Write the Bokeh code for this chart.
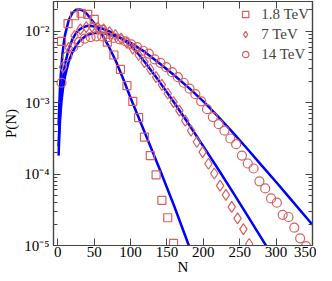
from bokeh.plotting import figure
from bokeh.models import (LogAxis, LinearAxis, FixedTicker, Range1d, Legend, LegendItem,
                          CustomJSTickFormatter)
from bokeh.embed import file_html
from bokeh.resources import INLINE

# ---- fitted curves (blue) ----
n_18 = [1, 2, 3, 4, 5, 6, 8, 10, 15, 20, 25, 30, 35, 40, 50, 60, 70, 80, 90, 100,
        120, 140, 160, 180, 190]
fit_18 = [4.79e-4, 9.77e-4, 1.66e-3, 2.45e-3, 3.39e-3, 4.47e-3, 6.76e-3, 9.12e-3,
          0.01445, 0.0182, 0.0202, 0.0204, 0.0195, 0.0176, 0.0130, 9.33e-3, 6.17e-3,
          3.80e-3, 2.14e-3, 1.17e-3, 3.72e-4, 1.17e-4, 3.55e-5, 1.0e-5, 5.1e-6]

n_7 = [1, 2, 3, 4, 5, 6, 8, 10, 15, 20, 25, 30, 35, 40, 45, 50, 60, 70, 80, 90, 100,
       110, 120, 140, 160, 180, 200, 220, 240, 260, 280, 300]
fit_7 = [2.45e-4, 4.68e-4, 7.41e-4, 1.07e-3, 1.41e-3, 1.82e-3, 2.63e-3, 3.55e-3,
         5.75e-3, 7.76e-3, 9.55e-3, 0.0107, 0.0115, 0.0119, 0.0120, 0.0117, 0.0111,
         0.0101, 8.91e-3, 7.67e-3, 6.38e-3, 4.90e-3, 3.67e-3, 1.95e-3, 1.0e-3,
         5.01e-4, 2.45e-4, 1.19e-4, 5.69e-5, 2.69e-5, 1.26e-5, 5.9e-6]

n_14 = [1, 2, 3, 4, 5, 7, 10, 15, 20, 25, 30, 40, 50, 60, 70, 80, 90, 100, 120, 140,
        160, 180, 200, 220, 240, 260, 280, 300, 320, 340, 350]
fit_14 = [1.82e-4, 3.55e-4, 5.62e-4, 7.94e-4, 1.05e-3, 1.58e-3, 2.40e-3, 3.80e-3,
          5.13e-3, 6.31e-3, 7.41e-3, 8.91e-3, 9.55e-3, 9.55e-3, 9.12e-3, 8.51e-3,
          7.76e-3, 6.92e-3, 5.13e-3, 3.55e-3, 2.43e-3, 1.62e-3, 1.05e-3, 6.46e-4,
          3.89e-4, 2.29e-4, 1.33e-4, 7.76e-5, 4.47e-5, 2.57e-5, 1.95e-5]

# ---- measured points ----
sq_n = [5, 14, 23, 32, 41, 50, 59, 68, 77, 86, 95, 103, 111, 119, 127, 135, 143, 151, 159]
sq_p = [7.24e-3, 0.0129, 0.0166, 0.0180, 0.0174, 0.0148, 0.0107, 7.08e-3, 4.68e-3,
        2.95e-3, 1.74e-3, 1.05e-3, 6.2e-4, 3.3e-4, 1.82e-4, 9.8e-5, 4.3e-5, 2.45e-5,
        1.07e-5]

di_n = [7, 15, 23, 31, 39, 47, 55, 63, 71, 79, 87, 95, 103, 111, 119, 127, 135, 143,
        151, 159, 167, 175, 183, 191, 199, 207, 215, 223, 231, 239, 247, 255, 263]
di_p = [3.16e-3, 5.89e-3, 8.71e-3, 0.0107, 0.0115, 0.0117, 0.0112, 0.0107, 9.77e-3,
        8.91e-3, 7.94e-3, 6.92e-3, 5.75e-3, 4.68e-3, 3.72e-3, 2.95e-3, 2.29e-3,
        1.78e-3, 1.35e-3, 1.02e-3, 7.76e-4, 5.62e-4, 4.07e-4, 2.82e-4, 2.04e-4,
        1.40e-4, 1.02e-4, 6.92e-5, 5.13e-5, 3.47e-5, 2.40e-5, 1.70e-5, 1.05e-5]

ci_n = [5, 13, 21, 29, 37, 45, 53, 61, 69, 77, 85, 93, 101, 109, 117, 125, 133, 141,
        149, 157, 165, 173, 181, 189, 197, 205, 213, 221, 229, 237, 245, 253, 261,
        269, 277, 285, 293, 301, 309, 317, 325, 333, 341]
ci_p = [1.91e-3, 4.47e-3, 6.03e-3, 7.08e-3, 7.94e-3, 8.32e-3, 8.51e-3, 8.51e-3,
        8.32e-3, 8.13e-3, 7.76e-3, 7.24e-3, 6.61e-3, 6.03e-3, 5.37e-3, 4.90e-3,
        4.07e-3, 3.63e-3, 3.16e-3, 2.69e-3, 2.29e-3, 1.91e-3, 1.58e-3, 1.32e-3,
        1.05e-3, 8.13e-4, 6.31e-4, 5.01e-4, 4.07e-4, 3.16e-4, 2.63e-4, 1.82e-4,
        1.41e-4, 1.20e-4, 7.94e-5, 6.31e-5, 4.57e-5, 3.98e-5, 2.69e-5, 2.51e-5,
        1.78e-5, 1.26e-5, 9.8e-6]

labels = ["1.8 TeV", "7 TeV", "14 TeV"]
x_ticks = [0, 50, 100, 150, 200, 250, 300, 350]
y_ticks = [1e-5, 1e-4, 1e-3, 1e-2]
y_tick_labels = ["10\u207b\u2075", "10\u207b\u2074", "10\u207b\u00b3", "10\u207b\u00b2"]

FONT = "Liberation Serif"
RED = "#d9605f"
BLUE = "#0000ff"
AX = "#444444"

p = figure(width=316, height=277, x_range=Range1d(-6, 350), y_range=Range1d(1e-5, 0.0263),
           y_axis_type="log", output_backend="svg", toolbar_location=None,
           min_border_left=46, min_border_right=4, min_border_top=1, min_border_bottom=20)

p.xgrid.visible = False
p.ygrid.visible = False
p.outline_line_color = AX
p.outline_line_width = 1.2
p.background_fill_color = "white"
p.border_fill_color = "white"

minor = []
for d in y_ticks + [1e-1]:
    for m in range(2, 10):
        v = d * m
        if v < 0.0263:
            minor.append(v)

yt = FixedTicker(ticks=y_ticks, minor_ticks=minor)
xt = FixedTicker(ticks=x_ticks, minor_ticks=[])


def style(ax):
    ax.axis_line_color = AX
    ax.axis_line_width = 1.2
    ax.major_tick_line_color = AX
    ax.minor_tick_line_color = AX
    ax.major_tick_in = 7
    ax.major_tick_out = 0
    ax.minor_tick_in = 4
    ax.minor_tick_out = 0
    ax.major_label_text_font = FONT
    ax.major_label_text_font_size = "15px"
    ax.axis_label_text_font = FONT
    ax.axis_label_text_font_style = "normal"
    ax.axis_label_text_font_size = "15px"
    ax.axis_label_text_color = "black"
    ax.major_label_text_color = "black"


xa = p.xaxis[0]
xa.ticker = xt
style(xa)
xa.major_label_standoff = 1
xa.axis_label = "N"
xa.axis_label_standoff = -1

ya = p.yaxis[0]
ya.ticker = yt
style(ya)
ya.major_label_standoff = 4
ya.major_label_overrides = {t: s for t, s in zip(y_ticks, y_tick_labels)}
ya.axis_label = "P(N)"
ya.axis_label_standoff = 2

top = LinearAxis(ticker=xt, formatter=CustomJSTickFormatter(code="return '';"))
style(top)
top.major_label_standoff = 0
p.add_layout(top, "above")
right = LogAxis(ticker=yt, formatter=CustomJSTickFormatter(code="return '';"))
style(right)
right.major_label_standoff = 0
p.add_layout(right, "right")

for n, f in [(n_18, fit_18), (n_7, fit_7), (n_14, fit_14)]:
    p.line(n, f, line_color=BLUE, line_width=2.5)

r_sq = p.scatter(sq_n, sq_p, marker="square", size=8, fill_color=None,
                 line_color=RED, line_width=1.2)
r_di = p.scatter(di_n, di_p, marker="diamond", size=11, fill_color=None,
                 line_color=RED, line_width=1.2)
r_ci = p.scatter(ci_n, ci_p, marker="circle", size=9, fill_color=None,
                 line_color=RED, line_width=1.2)

legend = Legend(items=[LegendItem(label=labels[0], renderers=[r_sq]),
                       LegendItem(label=labels[1], renderers=[r_di]),
                       LegendItem(label=labels[2], renderers=[r_ci])],
                location="top_right")
legend.border_line_color = None
legend.background_fill_alpha = 0
legend.label_text_font = FONT
legend.label_text_font_size = "15px"
legend.label_height = 20
legend.label_width = 20
legend.glyph_height = 20
legend.glyph_width = 16
legend.label_standoff = 8
legend.spacing = 0
legend.padding = 0
legend.margin = 3
p.add_layout(legend)

open("out.html", "w").write(file_html(p, INLINE))
